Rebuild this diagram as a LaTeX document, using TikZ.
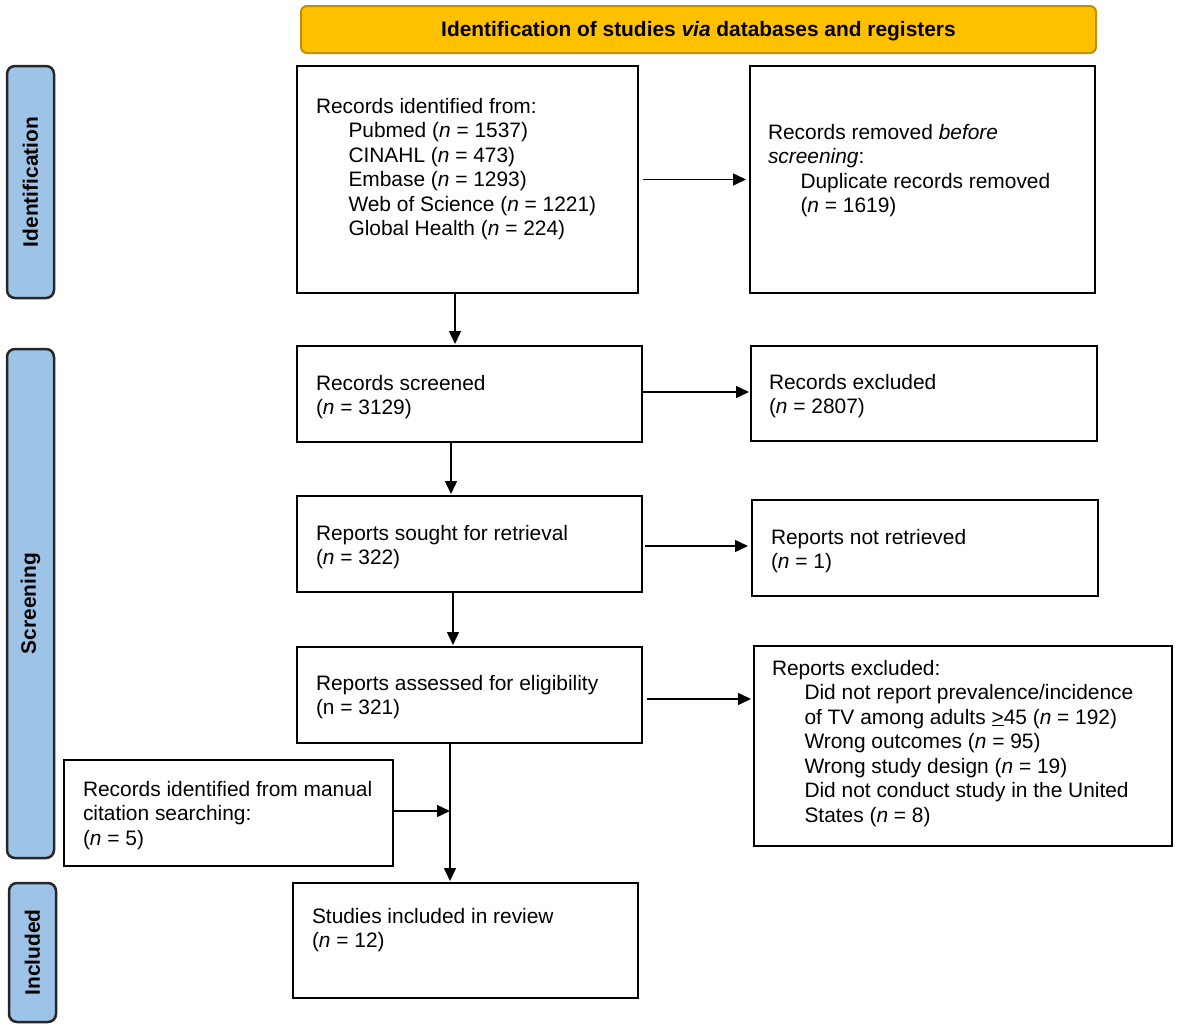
\documentclass[tikz,border=0pt]{standalone}
\usepackage{fontspec}
\setmainfont{Liberation Sans}
\usetikzlibrary{arrows.meta,calc}
\definecolor{sideblue}{HTML}{9DC3E6}
\definecolor{hdrfill}{HTML}{FFC000}
\definecolor{hdrdraw}{HTML}{BF9000}
\newcommand{\mylines}[1]{\begin{tabular}[t]{@{}l@{}}#1\end{tabular}}
\newcommand{\ind}{\hspace*{32.5pt}}
\newcommand{\nn}{\textit{n}}
\begin{document}
\begin{tikzpicture}[x=1pt,y=-1pt,
  font=\fontsize{20.9}{24.5}\selectfont,
  box/.style={draw=black, line width=2pt, anchor=north west, inner sep=0pt, outer sep=0pt},
  side/.style={draw=black!85, fill=sideblue, line width=2.5pt, rounded corners=8pt, inner sep=0pt, outer sep=0pt, rotate=90},
  txt/.style={anchor=base west, inner sep=0pt, outer sep=0pt},
  arr/.style={line width=1.5pt, -{Triangle[length=13pt,width=12pt]}}]
\useasboundingbox (0,0) rectangle (1178,1028);

% header
\node[anchor=north west, draw=hdrdraw, fill=hdrfill, line width=2pt, rounded corners=6pt,
      minimum width=795pt, minimum height=47pt, inner sep=0pt] (hdr) at (300,5)
      {\raisebox{-2pt}[\height][\depth]{\textbf{Identification of studies \textit{via} databases and registers}}};

% side labels
\node[side, minimum width=232pt, minimum height=47pt] (sid) at (30.5,182) {\textbf{Identification}};
\node[side, minimum width=509pt, minimum height=47pt] (sscr) at (30.5,603.5) {\textbf{Screening}};
\node[side, minimum width=139pt, minimum height=47pt] (sinc) at (32.5,952.5) {\textbf{Included}};

% boxes
\node[box, minimum width=341pt, minimum height=227pt] (b1) at (297,66) {};
\node[box, minimum width=345pt, minimum height=227pt] (b2) at (750,66) {};
\node[box, minimum width=345pt, minimum height=96pt] (scr) at (297,346) {};
\node[box, minimum width=346pt, minimum height=95pt] (exc) at (751,346) {};
\node[box, minimum width=345pt, minimum height=96pt] (sou) at (297,496) {};
\node[box, minimum width=346pt, minimum height=96pt] (nr) at (752,500) {};
\node[box, minimum width=345pt, minimum height=96pt] (ass) at (297,647) {};
\node[box, minimum width=418pt, minimum height=200pt] (rex) at (754,646) {};
\node[box, minimum width=329pt, minimum height=106pt] (man) at (64,760) {};
\node[box, minimum width=345pt, minimum height=115pt] (inc) at (293,883) {};

% texts
\node[txt] (t1) at (316,113) {\mylines{Records identified from:\\
  \ind Pubmed (\nn{} = 1537)\\
  \ind CINAHL (\nn{} = 473)\\
  \ind Embase (\nn{} = 1293)\\
  \ind Web of Science (\nn{} = 1221)\\
  \ind Global Health (\nn{} = 224)}};
\node[txt] (t2) at (768,139) {\mylines{Records removed \textit{before}\\
  \textit{screening}:\\
  \ind Duplicate records removed\\
  \ind (\nn{} = 1619)}};
\node[txt] (t3) at (316,390) {\mylines{Records screened\\(\nn{} = 3129)}};
\node[txt] (t4) at (769,389) {\mylines{Records excluded\\(\nn{} = 2807)}};
\node[txt] (t5) at (316,540) {\mylines{Reports sought for retrieval\\(\nn{} = 322)}};
\node[txt] (t6) at (771,544) {\mylines{Reports not retrieved\\(\nn{} = 1)}};
\node[txt] (t7) at (316,690) {\mylines{Reports assessed for eligibility\\(n = 321)}};
\node[txt] (t8) at (772,675) {\mylines{Reports excluded:\\
  \ind Did not report prevalence/incidence\\
  \ind of TV among adults \underline{>}45 (\nn{} = 192)\\
  \ind Wrong outcomes (\nn{} = 95)\\
  \ind Wrong study design (\nn{} = 19)\\
  \ind Did not conduct study in the United\\
  \ind States (\nn{} = 8)}};
\node[txt] (t9) at (83,796) {\mylines{Records identified from manual\\citation searching:\\(\nn{} = 5)}};
\node[txt] (t10) at (312,923) {\mylines{Studies included in review\\(\nn{} = 12)}};

% connectors
\draw[arr] ([xshift=5pt]b1.east) -- ([xshift=-4pt]b1.east -| b2.west);
\draw[arr, shorten >=2pt] ([xshift=-12.5pt]b1.south) -- ([xshift=-12.5pt]b1.south |- scr.north);
\draw[arr, shorten >=2pt] ([yshift=2pt]scr.east) -- ([yshift=2pt]scr.east -| exc.west);
\draw[arr, shorten >=2pt] ([xshift=-18.5pt]scr.south) -- ([xshift=-18.5pt]scr.south |- sou.north);
\draw[arr, shorten >=4pt] ([xshift=3pt,yshift=-2pt]sou.east) -- ([yshift=-2pt]sou.east -| nr.west);
\draw[arr, shorten >=2pt] ([xshift=-16.5pt]sou.south) -- ([xshift=-16.5pt]sou.south |- ass.north);
\draw[arr, shorten >=3pt] ([xshift=5pt,yshift=-4pt]ass.east) -- ([yshift=-4pt]ass.east -| rex.west);
\draw[arr, shorten >=2pt] ([xshift=-19.5pt]ass.south) -- ([xshift=-19.5pt]ass.south |- inc.north);
\coordinate (j) at ([xshift=-19.5pt,yshift=2pt]ass.south |- man.east);
\draw[arr] ([yshift=2pt]man.east) -- (j);
\end{tikzpicture}
\end{document}
